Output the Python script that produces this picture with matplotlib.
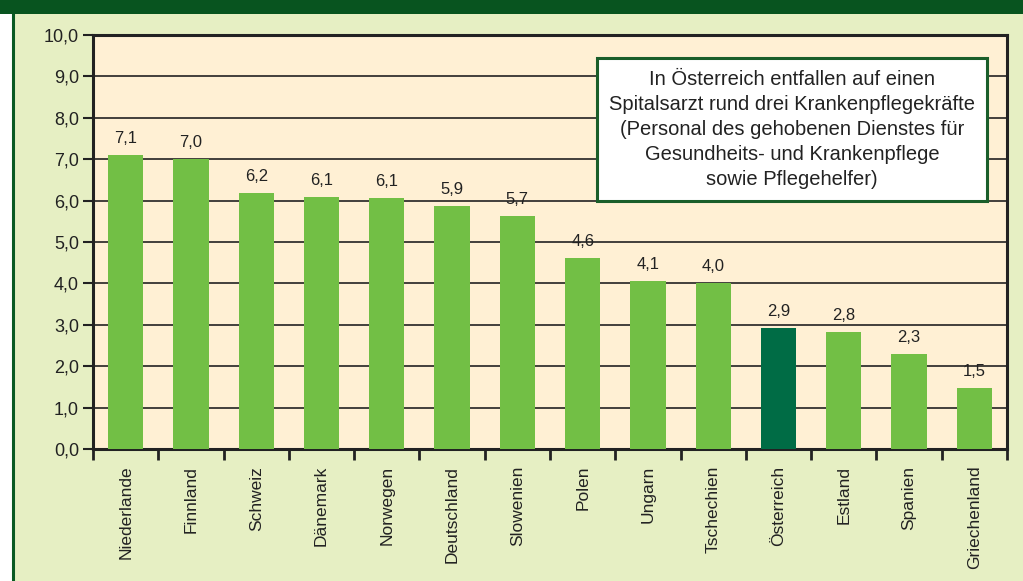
import matplotlib.pyplot as plt
from matplotlib.patches import Rectangle
from matplotlib.lines import Line2D

plt.rcParams['font.family'] = ['Liberation Sans', 'DejaVu Sans']

laender = ['Niederlande', 'Finnland', 'Schweiz', 'Dänemark', 'Norwegen', 'Deutschland',
           'Slowenien', 'Polen', 'Ungarn', 'Tschechien', 'Österreich', 'Estland',
           'Spanien', 'Griechenland']
werte = [7.1, 7.0, 6.18, 6.08, 6.06, 5.87, 5.63, 4.61, 4.06, 4.01, 2.92, 2.83, 2.29, 1.47]
beschriftung = ['7,1', '7,0', '6,2', '6,1', '6,1', '5,9', '5,7', '4,6', '4,1', '4,0',
                '2,9', '2,8', '2,3', '1,5']
y_ticks = [0, 1, 2, 3, 4, 5, 6, 7, 8, 9, 10]
hinweis = ("In Österreich entfallen auf einen\n"
           "Spitalsarzt rund drei Krankenpflegekräfte\n"
           "(Personal des gehobenen Dienstes für\n"
           "Gesundheits- und Krankenpflege\n"
           "sowie Pflegehelfer)")

W, H = 1023, 581
fig = plt.figure(figsize=(W / 100, H / 100), dpi=100, facecolor='#e6efc3')

# frame: white strip left, green border line, dark green band on top
fig.patches.append(Rectangle((0, 0), 12 / W, 1, transform=fig.transFigure,
                             facecolor='white', edgecolor='none', zorder=0))
fig.lines.append(Line2D([13 / W, 13 / W], [0, 1], transform=fig.transFigure,
                        color='#0a5a24', lw=2.2, zorder=1))
fig.patches.append(Rectangle((0, 1 - 14 / H), 1, 14 / H, transform=fig.transFigure,
                             facecolor='#08541f', edgecolor='none', zorder=2))

ax = fig.add_axes([93 / W, (H - 449) / H, 914 / W, 414 / H])
ax.set_facecolor('#fff0d4')

farben = ['#006c45' if l == 'Österreich' else '#72bf45' for l in laender]
x = list(range(len(laender)))
ax.bar(x, werte, width=0.54, color=farben, zorder=3)

for xi, v, t in zip(x, werte, beschriftung):
    ax.text(xi, v + 0.22, t, ha='center', va='bottom', fontsize=12, color='#222222')

ax.set_xlim(-0.5, len(laender) - 0.5)
ax.set_ylim(0, 10)
ax.set_yticks(y_ticks)
ax.set_yticklabels([f'{v:.1f}'.replace('.', ',') for v in y_ticks], fontsize=13, color='#222222')
ax.yaxis.grid(True, color='#222222', lw=1.2, zorder=1)
ax.set_axisbelow(True)

ax.set_xticks(x)
ax.set_xticklabels(laender, rotation=90, fontsize=12.5, color='#222222')
ax.tick_params(axis='x', length=0, pad=12)
ax.set_xticks([i - 0.5 for i in range(len(laender) + 1)], minor=True)
ax.tick_params(axis='x', which='minor', length=8, width=2, color='#222222')
ax.tick_params(axis='y', length=7, width=1.5, color='#222222', pad=3)

for s in ax.spines.values():
    s.set_color('#222222')
    s.set_linewidth(2.2)

ax.text(0.765, 0.772, hinweis, transform=ax.transAxes, ha='center', va='center',
        fontsize=14.5, color='#222222', linespacing=1.4, zorder=5,
        bbox=dict(boxstyle='square,pad=0.6', facecolor='white', edgecolor='#1a5e2a', lw=2.2))

fig.savefig('out.png', dpi=100, facecolor=fig.get_facecolor())
